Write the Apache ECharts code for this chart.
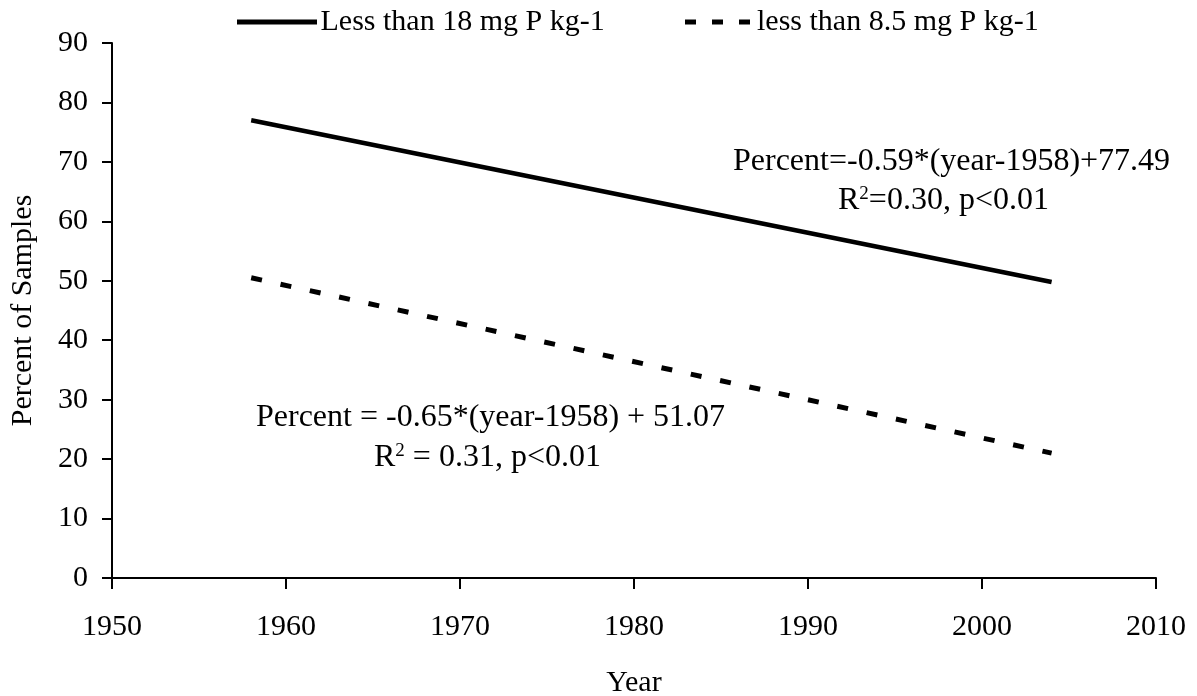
<!DOCTYPE html>
<html>
<head>
<meta charset="utf-8">
<script src="https://cdn.jsdelivr.net/npm/echarts@6/dist/echarts.min.js"></script>
<style>
  html, body { margin: 0; padding: 0; background: #fff; }
  #chart { width: 1197px; height: 696px; }
</style>
</head>
<body>
<div id="chart"></div>
<script>
// values
const names = ['Less than 18 mg P kg-1', 'less than 8.5 mg P kg-1']
const years = [1958, 2004]
const below18 = [77.0, 49.8]
const below85 = [50.5, 21.0]
const xTicks = { min: 1950, max: 2010, interval: 10 }
const yTicks = { min: 0, max: 90, interval: 10 }

const font = 'Liberation Serif, Times New Roman, serif'
const toPairs = (xs, ys) => xs.map((x, i) => [x, ys[i]])

const myChart = echarts.init(document.getElementById('chart'))
const supRich = {
  b: { fontFamily: font, fontSize: 32, color: '#000' },
  s: { fontFamily: font, fontSize: 19, color: '#000', verticalAlign: 'top', padding: [0, 0, 14, 0] }
}
const option = {
  animation: false,
  textStyle: { fontFamily: font, color: '#000' },
  grid: { left: 112, right: 41, top: 43, bottom: 118, outerBoundsMode: 'none', containLabel: false },
  legend: [
    {
      data: [names[0]],
      left: 232,
      top: 2,
      icon: 'path://M0,0H80V5H0Z',
      itemWidth: 81,
      itemHeight: 5,
      textStyle: { fontFamily: font, fontSize: 30, color: '#000', padding: [0, 0, 0, -2] }
    },
    {
      data: [names[1]],
      left: 680,
      top: 2,
      icon: 'path://M0,0H11V5H0Z M27,0H38V5H27Z M54,0H65V5H54Z',
      itemWidth: 65,
      itemHeight: 5,
      textStyle: { fontFamily: font, fontSize: 30, color: '#000', padding: [0, 0, 0, 2] }
    }
  ],
  xAxis: {
    type: 'value',
    min: xTicks.min,
    max: xTicks.max,
    interval: xTicks.interval,
    name: 'Year',
    nameLocation: 'middle',
    nameGap: 90,
    nameTextStyle: { fontFamily: font, fontSize: 30, color: '#000' },
    axisLine: { lineStyle: { color: '#000', width: 2 } },
    axisTick: { show: true, length: 11, lineStyle: { color: '#000', width: 2 } },
    axisLabel: { fontFamily: font, fontSize: 30, color: '#000', margin: 34, formatter: v => String(v) },
    splitLine: { show: false }
  },
  yAxis: {
    type: 'value',
    min: yTicks.min,
    max: yTicks.max,
    interval: yTicks.interval,
    name: 'Percent of Samples',
    nameLocation: 'middle',
    nameGap: 74,
    nameTextStyle: { fontFamily: font, fontSize: 30, color: '#000' },
    axisLine: { show: true, lineStyle: { color: '#000', width: 2 } },
    axisTick: { show: true, length: 10, lineStyle: { color: '#000', width: 2 } },
    axisLabel: { fontFamily: font, fontSize: 30, color: '#000', margin: 24 },
    splitLine: { show: false }
  },
  series: [
    {
      name: names[0],
      type: 'line',
      symbol: 'none',
      data: toPairs(years, below18),
      lineStyle: { color: '#000', width: 4.5 },
      itemStyle: { color: '#000' }
    },
    {
      name: names[1],
      type: 'line',
      symbol: 'none',
      data: toPairs(years, below85),
      lineStyle: { color: '#000', width: 5, type: [11, 19] },
      itemStyle: { color: '#000' }
    }
  ],
  graphic: [
    {
      type: 'text',
      x: 733,
      y: 162,
      style: {
        text: 'Percent=-0.59*(year-1958)+77.49',
        font: '32px ' + font,
        fill: '#000',
        verticalAlign: 'middle'
      }
    },
    {
      type: 'text',
      x: 838,
      y: 201,
      style: {
        text: '{b|R}{s|2}{b|=0.30, p<0.01}',
        verticalAlign: 'middle',
        rich: supRich
      }
    },
    {
      type: 'text',
      x: 256,
      y: 418,
      style: {
        text: 'Percent = -0.65*(year-1958) + 51.07',
        font: '32px ' + font,
        fill: '#000',
        verticalAlign: 'middle'
      }
    },
    {
      type: 'text',
      x: 374,
      y: 458,
      style: {
        text: '{b|R}{s|2}{b| = 0.31, p<0.01}',
        verticalAlign: 'middle',
        rich: supRich
      }
    }
  ]
}
myChart.setOption(option)
</script>
</body>
</html>
